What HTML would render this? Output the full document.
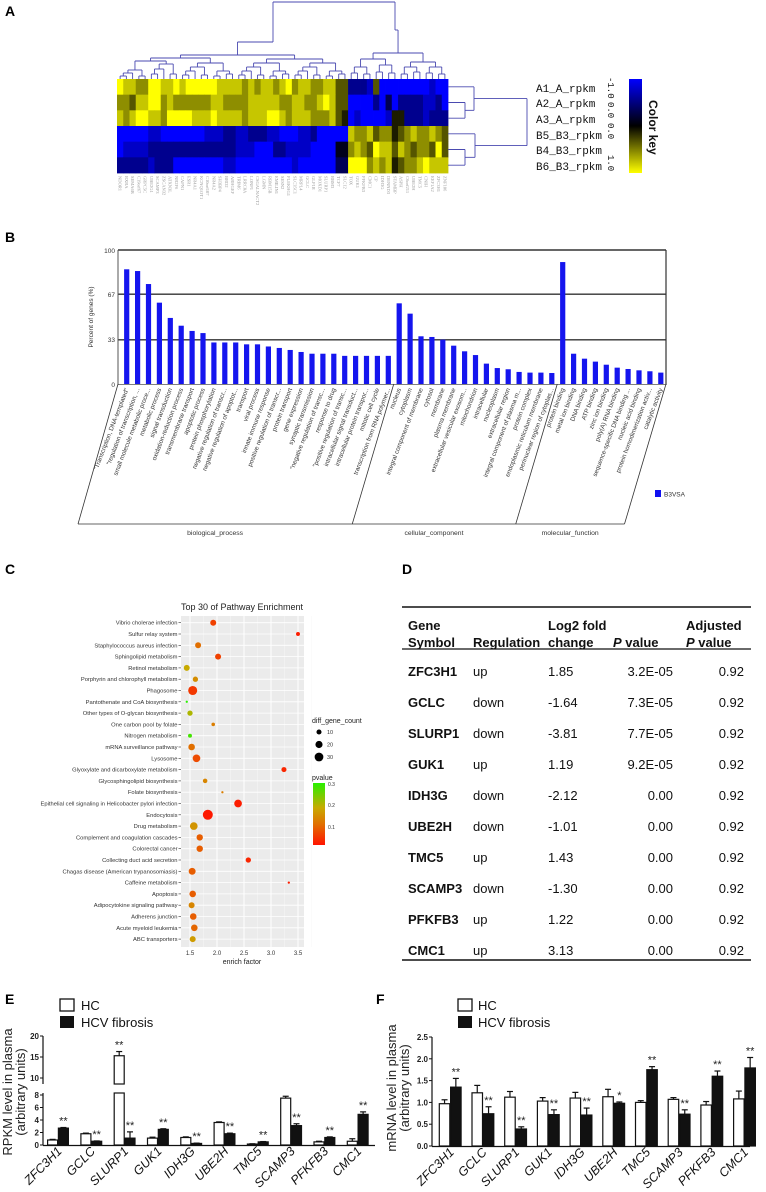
<!DOCTYPE html>
<html><head><meta charset="utf-8">
<style>
body{margin:0;background:#fff}
svg{display:block;font-family:"Liberation Sans",sans-serif}
</style></head>
<body>
<svg id="fig" width="766" height="1192" viewBox="0 0 766 1192">
<rect x="0" y="0" width="766" height="1192" fill="#fff"/>
<!-- panel labels -->
<text x="5" y="16" font-size="14" font-weight="bold">A</text>
<text x="5" y="242" font-size="14" font-weight="bold">B</text>
<text x="5" y="574" font-size="14" font-weight="bold">C</text>
<text x="402" y="574" font-size="14" font-weight="bold">D</text>
<text x="5" y="1004" font-size="14" font-weight="bold">E</text>
<text x="376" y="1004" font-size="14" font-weight="bold">F</text>

<!-- Panel A static -->
<g font-family="Liberation Mono, monospace" font-size="11" fill="#111">
<text x="536" y="92">A1_A_rpkm</text>
<text x="536" y="107">A2_A_rpkm</text>
<text x="536" y="123">A3_A_rpkm</text>
<text x="536" y="139">B5_B3_rpkm</text>
<text x="536" y="154">B4_B3_rpkm</text>
<text x="536" y="170">B6_B3_rpkm</text>
</g>
<defs>
<linearGradient id="ckey" x1="0" y1="0" x2="0" y2="1">
<stop offset="0" stop-color="#0000ff"/><stop offset="0.5" stop-color="#000"/><stop offset="1" stop-color="#ffff00"/>
</linearGradient>
<linearGradient id="pkey" x1="0" y1="1" x2="0" y2="0">
<stop offset="0" stop-color="#ff1400"/><stop offset="0.33" stop-color="#e16e00"/><stop offset="0.6" stop-color="#c8aa00"/><stop offset="1" stop-color="#28f000"/>
</linearGradient>
</defs>
<rect x="629" y="79" width="13" height="94" fill="url(#ckey)"/>
<g font-family="Liberation Mono, monospace" font-size="9" fill="#111">
<text transform="translate(608,77) rotate(90)">-1.0</text>
<text transform="translate(608,102) rotate(90)">0.0</text>
<text transform="translate(608,123) rotate(90)">0.0</text>
<text transform="translate(608,155) rotate(90)">1.0</text>
</g>
<text transform="translate(649,100) rotate(90)" font-size="12" font-weight="bold" fill="#111">Color key</text>

<!-- Panel B static -->
<text transform="translate(93,317) rotate(-90)" text-anchor="middle" font-size="6.5" fill="#333">Percent of genes (%)</text>
<g font-size="6.5" fill="#333" text-anchor="end">
<text x="115" y="253">100</text>
<text x="115" y="297">67</text>
<text x="115" y="342">33</text>
<text x="115" y="387">0</text>
</g>
<rect x="655" y="490" width="6" height="7" fill="#1010f0"/>
<text x="664" y="496.5" font-size="6.5" fill="#333">B3VSA</text>

<!-- Panel C static -->
<text x="242" y="610" text-anchor="middle" font-size="9" fill="#222">Top 30 of Pathway Enrichment</text>
<text x="242" y="964" text-anchor="middle" font-size="7" fill="#222">enrich factor</text>
<text x="312" y="723" font-size="7" fill="#222">diff_gene_count</text>
<text x="312" y="780" font-size="7" fill="#222">pvalue</text>
<rect x="313" y="783" width="12" height="62" fill="url(#pkey)"/>
<g font-size="5" fill="#333">
<text x="328" y="786">0.3</text>
<text x="328" y="807">0.2</text>
<text x="328" y="829">0.1</text>
</g>

<!-- Panel D table -->
<g font-size="13" fill="#111">
<line x1="402" y1="607" x2="751" y2="607" stroke="#111" stroke-width="1.6"/>
<line x1="402" y1="649" x2="751" y2="649" stroke="#111" stroke-width="1.2"/>
<line x1="402" y1="960" x2="751" y2="960" stroke="#111" stroke-width="1.6"/>
<g font-weight="bold">
<text x="408" y="630">Gene</text>
<text x="408" y="647">Symbol</text>
<text x="473" y="647">Regulation</text>
<text x="548" y="630">Log2 fold</text>
<text x="548" y="647">change</text>
<text x="613" y="647"><tspan font-style="italic">P</tspan> value</text>
<text x="686" y="630">Adjusted</text>
<text x="686" y="647"><tspan font-style="italic">P</tspan> value</text>
</g>
<g id="tbody"></g>
</g>

<!-- Panel E static -->
<rect x="60" y="999" width="14" height="12" fill="#fff" stroke="#111" stroke-width="1.3"/>
<text x="81" y="1010" font-size="13" fill="#111">HC</text>
<rect x="60" y="1016" width="14" height="12" fill="#111"/>
<text x="81" y="1027" font-size="13" fill="#111">HCV fibrosis</text>
<text transform="translate(12,1092) rotate(-90)" text-anchor="middle" font-size="13" fill="#222">RPKM level in plasma</text>
<text transform="translate(25,1092) rotate(-90)" text-anchor="middle" font-size="13" fill="#222">(arbitrary units)</text>

<!-- Panel F static -->
<rect x="458" y="999" width="14" height="12" fill="#fff" stroke="#111" stroke-width="1.3"/>
<text x="478" y="1010" font-size="13" fill="#111">HC</text>
<rect x="458" y="1016" width="14" height="12" fill="#111"/>
<text x="478" y="1027" font-size="13" fill="#111">HCV fibrosis</text>
<text transform="translate(396,1088) rotate(-90)" text-anchor="middle" font-size="13" fill="#222">mRNA level in plasma</text>
<text transform="translate(409,1088) rotate(-90)" text-anchor="middle" font-size="13" fill="#222">(arbitrary units)</text>
</svg>

<script>
// ===== Panel A data =====
const heatRows = [
 "98877998898999998888787887897887788" + "66" + "2221600000000100",
 "77688997877777788777788888778877898" + "66" + "0000203022221120",
 "87899887999988898888788899878887778" + "65" + "0100001552221222",
 "00000110000000111221122211000112000" + "00" + "8778677567877876",
 "01111222222222222221110002211110000" + "44" + "7876988687677696",
 "22222122200000000110000000001000000" + "33" + "9997878567789888"
];
const heatGenes = ["NDOR1","RXRA","SEMA6B","C19orf67","GRPC5C","UBE2G1","SCAMP3","ZSCAN32","ATXN3L","NR2F6","CAPN1","ESR1","NR4A1","KCNQ1OT1","C10orf107","NR4A2","SH3BP4","BRD2","ARHGEF","TRIM6","LRRC8A","LONP1","CSGALNACT2","LGMN","RBM15B","EMILIN1","SESN2","PLEKHG1","SLC35C1","MRPL4","GCLC","GLP1R","MOXD1","SLURP1","RBM3","TCF7","SLC12","TOX","GUK1","PFKFB3","CMC1","CP","IDH3G","DENND3","STAMBP","ASPH","C6orf211","UBE2H","TMC5","CNIH","EEF1A2","ZFC3H1","ZNF106"];

// ===== Panel B data =====
const goCats = ["\"Transcription, DNA-templated\"","\"regulation of transcription, ...","small molecule metabolic proce...","metabolic process","signal transduction","oxidation-reduction process","transmembrane transport","apoptotic process","protein phosphorylation","negative regulation of transcr...","negative regulation of apoptot...","transport","viral process","innate immune response","positive regulation of transcr...","protein transport","gene expression","synaptic transmission","\"negative regulation of transc...","response to drug","\"positive regulation of transc...","intracellular signal transduct...","intracellular protein transpor...","mitotic cell cycle","transcription from RNA polymer...",
"nucleus","cytoplasm","integral component of membrane","cytosol","membrane","plasma membrane","extracellular vesicular exosom...","mitochondrion","intracellular","nucleoplasm","extracellular region","integral component of plasma m...","protein complex","endoplasmic reticulum membrane","perinuclear region of cytoplas...",
"protein binding","metal ion binding","DNA binding","ATP binding","zinc ion binding","poly(A) RNA binding","sequence-specific DNA binding ...","nucleic acid binding","protein homodimerization activ...","catalytic activity"];
const goVals = [85.6,84.3,74.6,60.7,49.3,43.5,39.6,38,31,31,31,29.6,29.6,28,26.9,25.4,23.9,22.6,22.6,22.6,21,21,21,21,21,
 60.2,52.5,35.6,35.1,33.1,28.6,24.4,21.6,15.2,11.9,11,9,8.5,8.5,8.2,
 91,22.6,18.9,16.7,14.4,12.2,11.2,10.2,9.5,8.5];
const goGroups = ["biological_process","cellular_component","molecular_function"];
const goGroupSizes = [25,15,10];
const goTicks = [0,33,67,100];

// ===== Panel C data =====
const pathways = ["Vibrio cholerae infection","Sulfur relay system","Staphylococcus aureus infection","Sphingolipid metabolism","Retinol metabolism","Porphyrin and chlorophyll metabolism","Phagosome","Pantothenate and CoA biosynthesis","Other types of O-glycan biosynthesis","One carbon pool by folate","Nitrogen metabolism","mRNA surveillance pathway","Lysosome","Glyoxylate and dicarboxylate metabolism","Glycosphingolipid biosynthesis","Folate biosynthesis","Epithelial cell signaling in Helicobacter pylori infection","Endocytosis","Drug metabolism","Complement and coagulation cascades","Colorectal cancer","Collecting duct acid secretion","Chagas disease (American trypanosomiasis)","Caffeine metabolism","Apoptosis","Adipocytokine signaling pathway","Adherens junction","Acute myeloid leukemia","ABC transporters"];
const enrichFactor = [1.93,3.5,1.65,2.02,1.44,1.6,1.55,1.44,1.5,1.93,1.5,1.53,1.62,3.24,1.78,2.1,2.39,1.83,1.57,1.68,1.68,2.58,1.54,3.33,1.55,1.53,1.56,1.58,1.55];
const geneCount = [14,6,14,14,14,11,32,2,11,5,6,17,23,10,8,2,23,39,23,16,16,11,19,2,17,14,17,17,14];
const pValue = [0.05,0.01,0.1,0.05,0.18,0.14,0.04,0.3,0.2,0.12,0.28,0.1,0.06,0.02,0.13,0.12,0.01,0.005,0.15,0.08,0.08,0.02,0.08,0.01,0.08,0.13,0.08,0.09,0.16];
const cTicks = [1.5,2.0,2.5,3.0,3.5];
const sizeLegend = [10,20,30];

// ===== Panel D data =====
const tblGene = ["ZFC3H1","GCLC","SLURP1","GUK1","IDH3G","UBE2H","TMC5","SCAMP3","PFKFB3","CMC1"];
const tblReg = ["up","down","down","up","down","down","up","down","up","up"];
const tblFC = ["1.85","-1.64","-3.81","1.19","-2.12","-1.01","1.43","-1.30","1.22","3.13"];
const tblP = ["3.2E-05","7.3E-05","7.7E-05","9.2E-05","0.00","0.00","0.00","0.00","0.00","0.00"];
const tblAdj = ["0.92","0.92","0.92","0.92","0.92","0.92","0.92","0.92","0.92","0.92"];

// ===== Panel E/F data =====
const genes = ["ZFC3H1","GCLC","SLURP1","GUK1","IDH3G","UBE2H","TMC5","SCAMP3","PFKFB3","CMC1"];
const eHC = [0.8,1.8,15.3,1.1,1.2,3.6,0.15,7.5,0.5,0.6];
const eHCerr = [0.1,0.1,1.0,0.15,0.1,0.1,0.05,0.3,0.1,0.4];
const eFib = [2.7,0.6,1.1,2.5,0.25,1.8,0.5,3.1,1.2,4.9];
const eFibErr = [0.1,0.05,1.0,0.1,0.05,0.1,0.05,0.3,0.1,0.4];
const eSig = ["**","**","**","**","**","**","**","**","**","**"];
const eTicksLow = [0,2,4,6,8];
const eTicksHigh = [10,15,20];
const fHC = [0.97,1.22,1.12,1.03,1.1,1.13,1.0,1.07,0.94,1.08];
const fHCerr = [0.09,0.17,0.13,0.08,0.13,0.17,0.04,0.04,0.08,0.18];
const fFib = [1.35,0.74,0.39,0.72,0.71,0.98,1.75,0.73,1.6,1.79];
const fFibErr = [0.2,0.16,0.05,0.11,0.16,0.03,0.07,0.1,0.12,0.24];
const fSig = ["**","**","**","**","**","*","**","**","**","**"];
const fTicks = [0.0,0.5,1.0,1.5,2.0,2.5];

const NS = "http://www.w3.org/2000/svg";
const svg = document.getElementById("fig");
function mk(tag, attrs, parent){
  const e = document.createElementNS(NS, tag);
  for (const k in attrs) e.setAttribute(k, attrs[k]);
  (parent || svg).appendChild(e);
  return e;
}
function grp(){ return mk("g", {}); }

// ===================== Panel A =====================
(function(){
  const g = grp();
  
  
  const x0 = 117, y0 = 79, cw = 331/53, rh = 94/6;
  function col(d){
    const v = (d - 4.5) / 4.5;
    if (v < 0) return "rgb(0,0," + Math.round(255 * -v) + ")";
    return "rgb(" + Math.round(255*v) + "," + Math.round(255*v) + ",0)";
  }
  heatRows.forEach((row, r) => {
    for (let c = 0; c < row.length; c++) {
      const cell = mk("rect", {x: x0 + c*cw, y: y0 + r*rh, width: cw + 0.4, height: rh + 0.4, fill: col(+row[c])}, g);
      
      
    }
  });
  const gl = grp();
  
  
  heatGenes.forEach((n, c) => {
    const x = x0 + c*cw + cw/2 - 1.5;
    const t = mk("text", {transform: "translate(" + x + ",176) rotate(90)", "font-size": 4.5, fill: "#999", "font-family": "Liberation Serif, serif"}, gl);
    t.textContent = n;
    
    
  });
  const dg = grp();
  
  
  const stroke = "#4a4ab0";
  function seg(x1,y1,x2,y2){
    const l = mk("line", {x1, y1, x2, y2, stroke, "stroke-width": 0.9}, dg);
    
    
  }
  function build(lo, hi, step, depth){
    if (lo === hi) return {x: x0 + lo*cw + cw/2, y: y0};
    const mid = Math.floor((lo + hi) / 2);
    const a = build(lo, mid, step, depth+1), b = build(mid+1, hi, step, depth+1);
    const y = Math.min(a.y, b.y) - step - ((lo*7 + hi*3) % 3);
    seg(a.x, a.y, a.x, y); seg(b.x, b.y, b.x, y); seg(a.x, y, b.x, y);
    return {x: (a.x + b.x)/2, y};
  }
  const L = build(0, 36, 3, 0), R = build(37, 52, 5, 0);
  const Ly = 42, Ry = 30, root = 2;
  seg(L.x, L.y, L.x, Ly); seg(R.x, R.y, R.x, Ry);
  const Lx = 273, Rx = 395;
  seg(L.x, Ly, Lx, Ly); seg(R.x, Ry, Rx, Ry);
  seg(Lx, Ly, Lx, root); seg(Rx, Ry, Rx, root); seg(Lx, root, Rx, root);
  const rc = r => y0 + r*rh + rh/2;
  seg(448, rc(1), 465, rc(1)); seg(448, rc(2), 465, rc(2)); seg(465, rc(1), 465, rc(2));
  seg(448, rc(0), 474, rc(0)); seg(465, (rc(1)+rc(2))/2, 474, (rc(1)+rc(2))/2); seg(474, rc(0), 474, (rc(1)+rc(2))/2);
  seg(448, rc(4), 465, rc(4)); seg(448, rc(5), 465, rc(5)); seg(465, rc(4), 465, rc(5));
  seg(448, rc(3), 475, rc(3)); seg(465, (rc(4)+rc(5))/2, 475, (rc(4)+rc(5))/2); seg(475, rc(3), 475, (rc(4)+rc(5))/2);
  const ya = (rc(0) + (rc(1)+rc(2))/2)/2, yb = (rc(3) + (rc(4)+rc(5))/2)/2;
  seg(474, ya, 527, ya); seg(475, yb, 527, yb); seg(527, ya, 527, yb);
})();

// ===================== Panel B =====================
(function(){
  const g = grp();
  
  
  const yB = v => 384 - v * 1.34;
  const xB = i => 126.7 + i * 10.9;
  goTicks.forEach(t => {
    if (t === 0) return;
    const l = mk("line", {x1: 118, x2: 666, y1: yB(t), y2: yB(t), stroke: "#333", "stroke-width": t === 100 ? 1.6 : 1.4}, g);
    
    
  });
  const ax = mk("line", {x1: 118, x2: 118, y1: 250, y2: 385, stroke: "#555", "stroke-width": 1}, g);
  
  
  const rb = mk("line", {x1: 666, x2: 666, y1: 250, y2: 385, stroke: "#333", "stroke-width": 1.2}, g);
  
  
  const bx = mk("line", {x1: 118, x2: 666, y1: 384.5, y2: 384.5, stroke: "#555", "stroke-width": 0.8}, g);
  
  
  goVals.forEach((v, i) => {
    const r = mk("rect", {x: xB(i) - 2.6, y: yB(v), width: 5.2, height: 384 - yB(v), fill: "#1515ee"}, g);
    
    
    const x = xB(i) + 2, y = 389;
    const t = mk("text", {x, y, transform: "rotate(-69 " + x + " " + y + ")", "text-anchor": "end", "font-size": 6.3, fill: "#333"}, g);
    t.textContent = goCats[i];
    
    
  });
  const topX = [118], botX = [78];
  let acc = 0;
  goGroupSizes.forEach(s => { acc += s; const xt = acc === 50 ? 666 : (xB(acc-1) + xB(acc))/2; topX.push(xt); botX.push(xt - 41.5); });
  topX.forEach((xt, k) => {
    const l = mk("line", {x1: xt, y1: 384, x2: botX[k], y2: 524, stroke: "#333", "stroke-width": 0.8}, g);
    
    
  });
  const bl = mk("line", {x1: 78, y1: 524, x2: botX[3], y2: 524, stroke: "#333", "stroke-width": 0.8}, g);
  
  
  goGroups.forEach((n, k) => {
    const t = mk("text", {x: (botX[k] + botX[k+1])/2, y: 535, "text-anchor": "middle", "font-size": 6.8, fill: "#333"}, g);
    t.textContent = n;
    
    
  });
})();

// ===================== Panel C =====================
(function(){
  const g = grp();
  
  
  const xC = e => 190 + (e - 1.5) * 54;
  const yC = i => 622.7 + i * 11.3;
  const bg = mk("rect", {x: 181, y: 616, width: 123, height: 331, fill: "#ebebeb"}, g);
  
  
  cTicks.forEach(t => {
    const l = mk("line", {x1: xC(t), x2: xC(t), y1: 616, y2: 947, stroke: "#fff", "stroke-width": 1}, g);
    
    
    const m = mk("line", {x1: xC(t + 0.25), x2: xC(t + 0.25), y1: 616, y2: 947, stroke: "#f7f7f7", "stroke-width": 0.5}, g);
    
    
    const lb = mk("text", {x: xC(t), y: 955, "text-anchor": "middle", "font-size": 6, fill: "#333"}, g);
    lb.textContent = t.toFixed(1);
    
    
  });
  function pcol(p){
    const t = Math.max(0, Math.min(1, p / 0.3));
    const st = [[0,255,20,0],[0.33,225,110,0],[0.6,200,170,0],[1,40,240,0]];
    for (let k = 0; k < st.length - 1; k++) {
      if (t <= st[k+1][0]) {
        const f = (t - st[k][0]) / (st[k+1][0] - st[k][0]);
        const c = [1,2,3].map(j => Math.round(st[k][j] + f * (st[k+1][j] - st[k][j])));
        return "rgb(" + c.join(",") + ")";
      }
    }
    return "rgb(40,240,0)";
  }
  pathways.forEach((n, i) => {
    const y = yC(i);
    const l = mk("line", {x1: 181, x2: 304, y1: y, y2: y, stroke: "#fff", "stroke-width": 0.8}, g);
    
    
    const tk = mk("line", {x1: 178.5, x2: 181, y1: y, y2: y, stroke: "#333", "stroke-width": 0.6}, g);
    
    
    const t = mk("text", {x: 177.5, y: y + 2, "text-anchor": "end", "font-size": 5.8, fill: "#333"}, g);
    t.textContent = n;
    
    
  });
  pathways.forEach((n, i) => {
    const c = mk("circle", {cx: xC(enrichFactor[i]), cy: yC(i), r: 0.8 * Math.sqrt(geneCount[i]), fill: pcol(pValue[i])}, g);
    
    
  });
  sizeLegend.forEach((s, k) => {
    const y = 732 + k * 12.5;
    const c = mk("circle", {cx: 319, cy: y, r: 0.8 * Math.sqrt(s), fill: "#000"}, g);
    
    
    const t = mk("text", {x: 327, y: y + 2, "font-size": 5.5, fill: "#333"}, g);
    t.textContent = String(s);
    
    
  });
})();

// ===================== Panel D =====================
(function(){
  const tb = document.getElementById("tbody");
  tblGene.forEach((n, i) => {
    const y = 676 + i * 31;
    const a = mk("text", {x: 408, y, "font-weight": "bold"}, tb);
    a.textContent = n;
    
    
    const b = mk("text", {x: 473, y}, tb);
    b.textContent = tblReg[i];
    
    
    const c = mk("text", {x: 548, y}, tb);
    c.textContent = tblFC[i];
    
    
    const d = mk("text", {x: 673, y, "text-anchor": "end"}, tb);
    d.textContent = tblP[i];
    
    
    const e = mk("text", {x: 744, y, "text-anchor": "end"}, tb);
    e.textContent = tblAdj[i];
    
    
  });
})();

// ===================== Panels E & F =====================
function barPanel(opt){
  const g = grp();
  
  
  const gx = i => opt.x0 + i * opt.step;
  const bw = opt.bw;
  function line(x1,y1,x2,y2,w,name){
    const l = mk("line", {x1, y1, x2, y2, stroke: "#111", "stroke-width": w}, g);
    
    
  }
  opt.axisSegs.forEach(s => line(opt.ax, s[0], opt.ax, s[1], 1.2, 'y-axis'));
  line(opt.ax, opt.y(0) + 0.5, opt.axEnd, opt.y(0) + 0.5, 1.2, 'x-axis');
  opt.ticks.forEach(t => {
    line(opt.ax - 3, opt.y(t), opt.ax, opt.y(t), 1, 'y-tick');
    const lb = mk("text", {x: opt.ax - 4, y: opt.y(t) + 3, "text-anchor": "end", "font-size": 8, "font-weight": "bold", fill: "#222"}, g);
    lb.textContent = opt.fmt(t);
    
    
  });
  function bar(x, v, err, fill, name){
    const pieces = opt.pieces(v);
    pieces.forEach(p => {
      const r = mk("rect", {x, y: p[0], width: bw, height: p[1] - p[0], fill, stroke: "#111", "stroke-width": 1.2}, g);
      
      
    });
    const top = opt.y(v), et = opt.y(v + err), cx = x + bw/2;
    line(cx, top, cx, et, 1.2, 'error-bar');
    line(cx - 3, et, cx + 3, et, 1.2, 'error-bar-cap');
    return et;
  }
  genes.forEach((n, i) => {
    const xw = gx(i), xb = xw + bw + 0.8;
    const e1 = bar(xw, opt.hc[i], opt.hcErr[i], "#fff", 'bar-hc');
    const e2 = bar(xb, opt.fib[i], opt.fibErr[i], "#111", 'bar-hcv-fibrosis');
    if (opt.sigOnHc && opt.sigOnHc[i]) {
      const s = mk("text", {x: xw + bw/2, y: e1 - 3, "text-anchor": "middle", "font-size": 11, fill: "#222"}, g);
      s.textContent = opt.sigOnHc[i];
      
      
    }
    const s2 = mk("text", {x: xb + bw/2, y: e2 - 3, "text-anchor": "middle", "font-size": 11, fill: "#222"}, g);
    s2.textContent = opt.sig[i];
    
    
    const cx = xw + bw + 5, cy = opt.y(0) + 7;
    const t = mk("text", {x: cx, y: cy, transform: "rotate(-45 " + cx + " " + cy + ")", "text-anchor": "end", "font-size": 12.5, "font-style": "italic", fill: "#111"}, g);
    t.textContent = n;
    
    
  });
}

const yE = v => v <= 8.6 ? 1145 - v * 6.25 : 1078 - (v - 10) * 4.2;
barPanel({
  name: 'rpkm-bar-chart', x0: 47.6, step: 33.3, bw: 10, ax: 43, axEnd: 375,
  y: yE,
  axisSegs: [[1145, 1093], [1084, 1036]],
  pieces: v => v > 8.3 ? [[1093, 1145], [yE(v), 1084]] : [[yE(v), 1145]],
  ticks: eTicksLow.concat(eTicksHigh), fmt: t => String(t),
  hc: eHC, hcErr: eHCerr, fib: eFib, fibErr: eFibErr, sig: eSig,
  sigOnHc: ["","","**","","","","","","",""]
});
const yF = v => 1146 - v * 43.6;
barPanel({
  name: 'mrna-bar-chart', x0: 439.3, step: 32.7, bw: 10.5, ax: 432, axEnd: 750,
  y: yF,
  axisSegs: [[1146, 1037]],
  pieces: v => [[yF(v), 1146]],
  ticks: fTicks, fmt: t => t.toFixed(1),
  hc: fHC, hcErr: fHCerr, fib: fFib, fibErr: fFibErr, sig: fSig
});
</script>
</body></html>
